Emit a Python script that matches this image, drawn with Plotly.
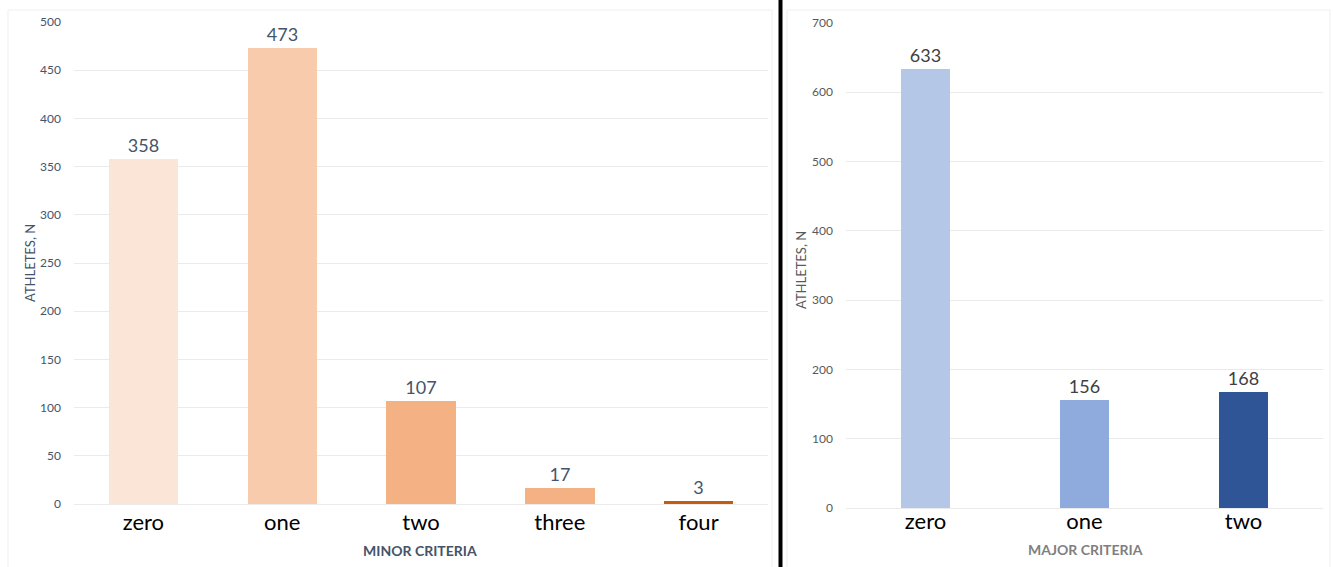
import plotly.graph_objects as go

# Minor criteria counts
minor_labels = ["zero", "one", "two", "three", "four"]
minor_counts = [358, 473, 107, 17, 3]
minor_colors = ["#FBE5D6", "#F8CBAD", "#F4B183", "#F4B183", "#C55A11"]

# Major criteria counts
major_labels = ["zero", "one", "two"]
major_counts = [633, 156, 168]
major_colors = ["#B4C7E7", "#8FAADC", "#2F5597"]

W, H = 1333, 567
FONT = "Lato"

fig = go.Figure()

fig.add_trace(go.Bar(
    x=minor_labels, y=minor_counts, marker_color=minor_colors,
    marker_line_width=0, width=0.5,
    text=minor_counts, textposition="outside", cliponaxis=False,
    textfont=dict(family=FONT, size=18, color="#44546A"),
    xaxis="x", yaxis="y", showlegend=False,
))
fig.add_trace(go.Bar(
    x=major_labels, y=major_counts, marker_color=major_colors,
    marker_line_width=0, width=0.31,
    text=major_counts, textposition="outside", cliponaxis=False,
    textfont=dict(family=FONT, size=18, color="#404040"),
    xaxis="x2", yaxis="y2", showlegend=False,
))

grid = "#EAEAEA"
common_x = dict(showgrid=False, showline=False, ticks="", automargin=False,
                tickfont=dict(family=FONT, size=22, color="#000000"))
common_y = dict(showgrid=True, gridcolor=grid, gridwidth=1, zeroline=True,
                zerolinecolor=grid, zerolinewidth=1, showline=False, ticks="",
                automargin=False, ticklabelstandoff=12)

fig.update_layout(
    width=W, height=H,
    margin=dict(l=0, r=0, t=0, b=0),
    paper_bgcolor="white", plot_bgcolor="white",
    bargap=0,
    xaxis=dict(domain=[74 / W, 768 / W], anchor="y", ticklabelstandoff=3, **common_x),
    yaxis=dict(domain=[63 / H, 545 / H], anchor="x", range=[0, 500], dtick=50,
               tickfont=dict(family=FONT, size=12, color="#44546A"), **common_y),
    xaxis2=dict(domain=[846 / W, 1323 / W], anchor="y2", ticklabelstandoff=-2, **common_x),
    yaxis2=dict(domain=[59 / H, 544 / H], anchor="x2", range=[0, 700], dtick=100,
                tickfont=dict(family=FONT, size=12, color="#595959"), **common_y),
    shapes=[
        # light frames around the two panels
        dict(type="rect", xref="paper", yref="paper", x0=8 / W, x1=772 / W,
             y0=-0.01, y1=1 - 10 / H, line=dict(color="#EFEFEF", width=1)),
        dict(type="rect", xref="paper", yref="paper", x0=787 / W, x1=1330 / W,
             y0=-0.01, y1=1 - 10 / H, line=dict(color="#EFEFEF", width=1)),
        # black divider between panels
        dict(type="line", xref="paper", yref="paper", x0=780.5 / W, x1=780.5 / W,
             y0=0, y1=1, line=dict(color="black", width=4)),
    ],
    annotations=[
        dict(text="<b>MINOR CRITERIA</b>", xref="paper", yref="paper",
             x=420 / W, y=1 - 550 / H, xanchor="center", yanchor="middle",
             showarrow=False, font=dict(family=FONT, size=14, color="#44546A")),
        dict(text="<b>MAJOR CRITERIA</b>", xref="paper", yref="paper",
             x=1085 / W, y=1 - 549 / H, xanchor="center", yanchor="middle",
             showarrow=False, font=dict(family=FONT, size=14, color="#7F7F7F")),
        dict(text="ATHLETES, N", xref="paper", yref="paper",
             x=30 / W, y=1 - 263 / H, xanchor="center", yanchor="middle",
             showarrow=False, textangle=-90,
             font=dict(family=FONT, size=13, color="#44546A")),
        dict(text="ATHLETES, N", xref="paper", yref="paper",
             x=801 / W, y=1 - 270 / H, xanchor="center", yanchor="middle",
             showarrow=False, textangle=-90,
             font=dict(family=FONT, size=13, color="#595959")),
    ],
)

fig.write_html("out.html")
